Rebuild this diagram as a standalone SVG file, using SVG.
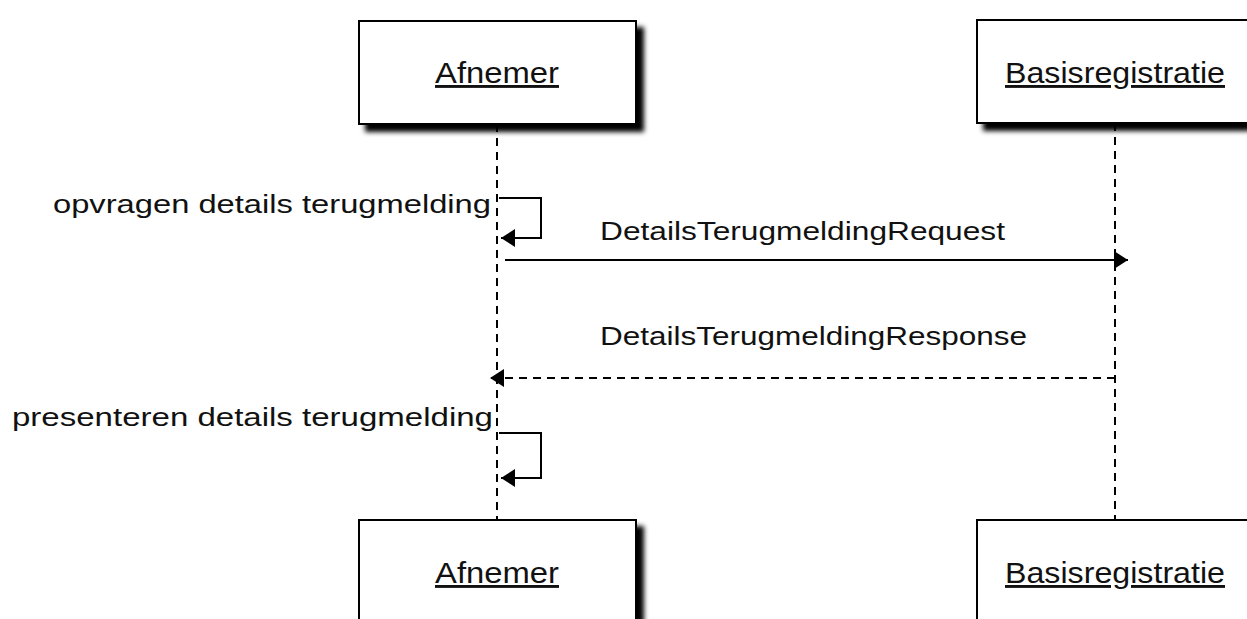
<svg xmlns="http://www.w3.org/2000/svg" width="1247" height="619" viewBox="0 0 1247 619">
<defs>
<filter id="sh" x="-10%" y="-10%" width="130%" height="140%">
<feGaussianBlur in="SourceAlpha" stdDeviation="2.5"/>
<feOffset dx="7" dy="7" result="b"/>
<feComponentTransfer><feFuncA type="linear" slope="1"/></feComponentTransfer>
<feMerge><feMergeNode/><feMergeNode in="SourceGraphic"/></feMerge>
</filter>
<marker id="ah" markerWidth="15" markerHeight="18" refX="14" refY="9" orient="auto" markerUnits="userSpaceOnUse">
<path d="M0,0 L14,9 L0,18 Z" fill="#000"/>
</marker>
</defs>
<style>
.box{fill:#fff;stroke:#000;stroke-width:2}
.nt{font-family:"Liberation Sans",Arial,sans-serif;font-size:29px;fill:#111;text-anchor:middle;text-decoration:underline}
.lbl{font-family:"Liberation Sans",Arial,sans-serif;font-size:26px;fill:#111}
.life{stroke:#000;stroke-width:2;stroke-dasharray:8,6;fill:none}
.msg{stroke:#000;stroke-width:2;fill:none}
</style>
<rect width="1247" height="619" fill="#fff"/>
<g id="lifelines">
<line class="life" x1="497" y1="124" x2="497" y2="520"/>
<line class="life" x1="1115" y1="123" x2="1115" y2="520"/>
</g>
<g id="afnemer-top">
<rect class="box" x="359" y="21" width="277" height="103" filter="url(#sh)"/>
<text class="nt" x="497" y="83" textLength="124" lengthAdjust="spacingAndGlyphs">Afnemer</text>
</g>
<g id="basis-top">
<rect class="box" x="977" y="20" width="285" height="103" filter="url(#sh)"/>
<text class="nt" x="1115" y="83" textLength="220" lengthAdjust="spacingAndGlyphs">Basisregistratie</text>
</g>
<g id="afnemer-bottom">
<rect class="box" x="359" y="520" width="277" height="110" filter="url(#sh)"/>
<text class="nt" x="497" y="583" textLength="124" lengthAdjust="spacingAndGlyphs">Afnemer</text>
</g>
<g id="basis-bottom">
<rect class="box" x="977" y="520" width="285" height="110" filter="url(#sh)"/>
<text class="nt" x="1115" y="583" textLength="220" lengthAdjust="spacingAndGlyphs">Basisregistratie</text>
</g>
<g id="connectors">
<polyline class="msg" points="499,198 541,198 541,238 501,238" marker-end="url(#ah)"/>
<text class="lbl" x="53" y="213" textLength="438" lengthAdjust="spacingAndGlyphs">opvragen details terugmelding</text>
<line class="msg" x1="505" y1="260" x2="1128" y2="260" marker-end="url(#ah)"/>
<text class="lbl" x="600" y="240" textLength="405" lengthAdjust="spacingAndGlyphs">DetailsTerugmeldingRequest</text>
<line class="msg" x1="1115" y1="378" x2="490" y2="378" stroke-dasharray="8,6" marker-end="url(#ah)"/>
<text class="lbl" x="600" y="345" textLength="427" lengthAdjust="spacingAndGlyphs">DetailsTerugmeldingResponse</text>
<polyline class="msg" points="499,433 541,433 541,478 501,478" marker-end="url(#ah)"/>
<text class="lbl" x="12" y="426" textLength="481" lengthAdjust="spacingAndGlyphs">presenteren details terugmelding</text>
</g>
</svg>
